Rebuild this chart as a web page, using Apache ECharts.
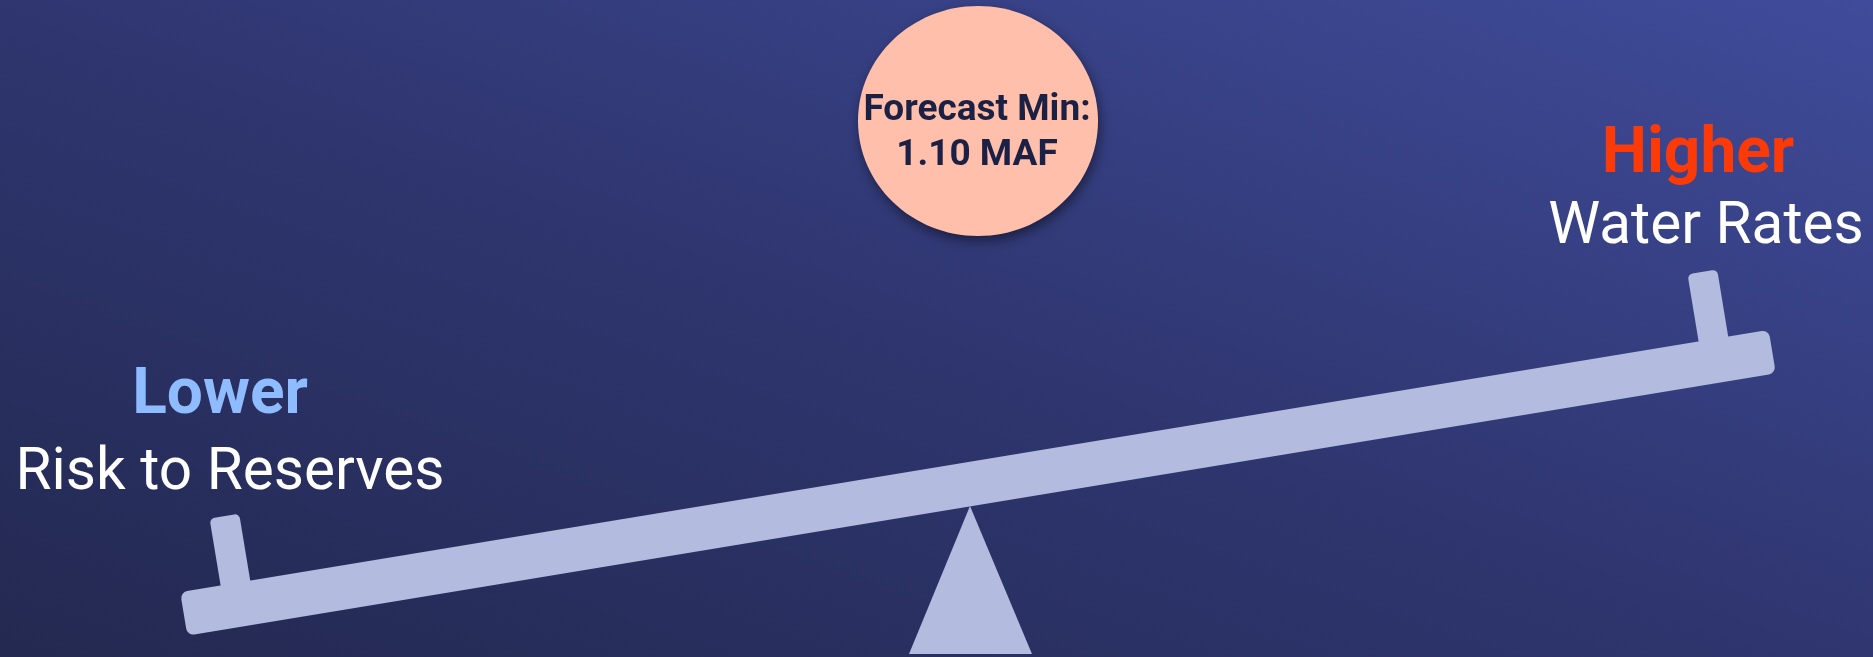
<!DOCTYPE html>
<html>
<head>
<meta charset="utf-8">
<style>
  html, body { margin: 0; padding: 0; width: 100%; height: 100%; overflow: hidden; }
  #chart { width: 1873px; height: 657px; }
</style>
<script src="https://cdn.jsdelivr.net/npm/echarts@6/dist/echarts.min.js"></script>
</head>
<body>
<div id="chart"></div>
<script>
// ---- content ----
const forecastLines = ['Forecast Min:', '1.10 MAF'];
const forecastValueMAF = [1.10];
const leftSide = ['Lower', 'Risk to Reserves'];
const rightSide = ['Higher', 'Water Rates'];
const tiltDegrees = [9.38];   // seesaw tilt (right side up)
const sceneItems = ['seesaw'];

const chart = echarts.init(document.getElementById('chart'));

function renderScene(params, api) {
  const pivot = api.coord([978, 482.75]);
  const ang = tiltDegrees[0] * Math.PI / 180;
  const beamColor = '#b3bbdf';
  const halfLen = 805, halfTh = 22;
  const postW = 30, postH = 72, postInset = 56;

  const apex = api.coord([970, 506]);
  const bl = api.coord([909, 654]);
  const br = api.coord([1032, 654]);

  const circ = api.coord([978, 121]);
  const fs1 = 37, fsBig = 64, fsSmall = 58.5;

  function txt(text, x, baseline, size, weight, color) {
    const p = api.coord([x, baseline]);
    return {
      type: 'text',
      x: p[0],
      y: p[1] - 0.29 * size,
      style: {
        text: text,
        font: weight + ' ' + size + 'px Roboto',
        fill: color,
        align: 'center',
        verticalAlign: 'middle'
      }
    };
  }

  return {
    type: 'group',
    children: [
      // fulcrum
      {
        type: 'polygon',
        shape: { points: [apex, br, bl] },
        style: { fill: beamColor }
      },
      // beam + posts
      {
        type: 'group',
        x: pivot[0],
        y: pivot[1],
        rotation: ang,
        children: [
          {
            type: 'rect',
            shape: { x: -halfLen + postInset - postW / 2, y: -halfTh - postH + 4, width: postW, height: postH, r: [5, 5, 0, 0] },
            style: { fill: beamColor }
          },
          {
            type: 'rect',
            shape: { x: halfLen - postInset - postW / 2, y: -halfTh - postH + 4, width: postW, height: postH, r: [5, 5, 0, 0] },
            style: { fill: beamColor }
          },
          {
            type: 'rect',
            shape: { x: -halfLen, y: -halfTh, width: 2 * halfLen, height: 2 * halfTh, r: 7 },
            style: { fill: beamColor }
          }
        ]
      },
      // forecast bubble
      {
        type: 'ellipse',
        shape: { cx: circ[0], cy: circ[1], rx: 120, ry: 115 },
        style: {
          fill: '#ffbfab',
          shadowBlur: 12,
          shadowColor: 'rgba(0,0,0,0.45)',
          shadowOffsetX: 2,
          shadowOffsetY: 5
        }
      },
      txt(forecastLines[0], 977, 121.7, fs1, 'bold', '#1b2045'),
      txt(forecastValueMAF[0].toFixed(2) + ' MAF', 977, 166.7, fs1, 'bold', '#1b2045'),
      // left label
      txt(leftSide[0], 220, 416, fsBig, 'bold', '#8ebcff'),
      txt(leftSide[1], 230, 491, fsSmall, 'normal', '#ffffff'),
      // right label
      txt(rightSide[0], 1698, 174.5, fsBig, 'bold', '#fb3a08'),
      txt(rightSide[1], 1706, 245, fsSmall, 'normal', '#ffffff')
    ]
  };
}

chart.setOption({
  animation: false,
  backgroundColor: {
    type: 'linear', global: true,
    x: 731, y: 914, x2: 1142, y2: -257,
    colorStops: [
      { offset: 0, color: '#232950' },
      { offset: 0.5, color: '#2f3670' },
      { offset: 1, color: '#404c9b' }
    ]
  },
  grid: { left: 0, right: 0, top: 0, bottom: 0 },
  xAxis: { type: 'value', min: 0, max: 1873, show: false },
  yAxis: { type: 'value', min: 0, max: 657, inverse: true, show: false },
  series: [{
    type: 'custom',
    coordinateSystem: 'cartesian2d',
    clip: false,
    data: sceneItems.map(function (n, i) { return [i]; }),
    renderItem: renderScene
  }]
});
</script>
</body>
</html>
